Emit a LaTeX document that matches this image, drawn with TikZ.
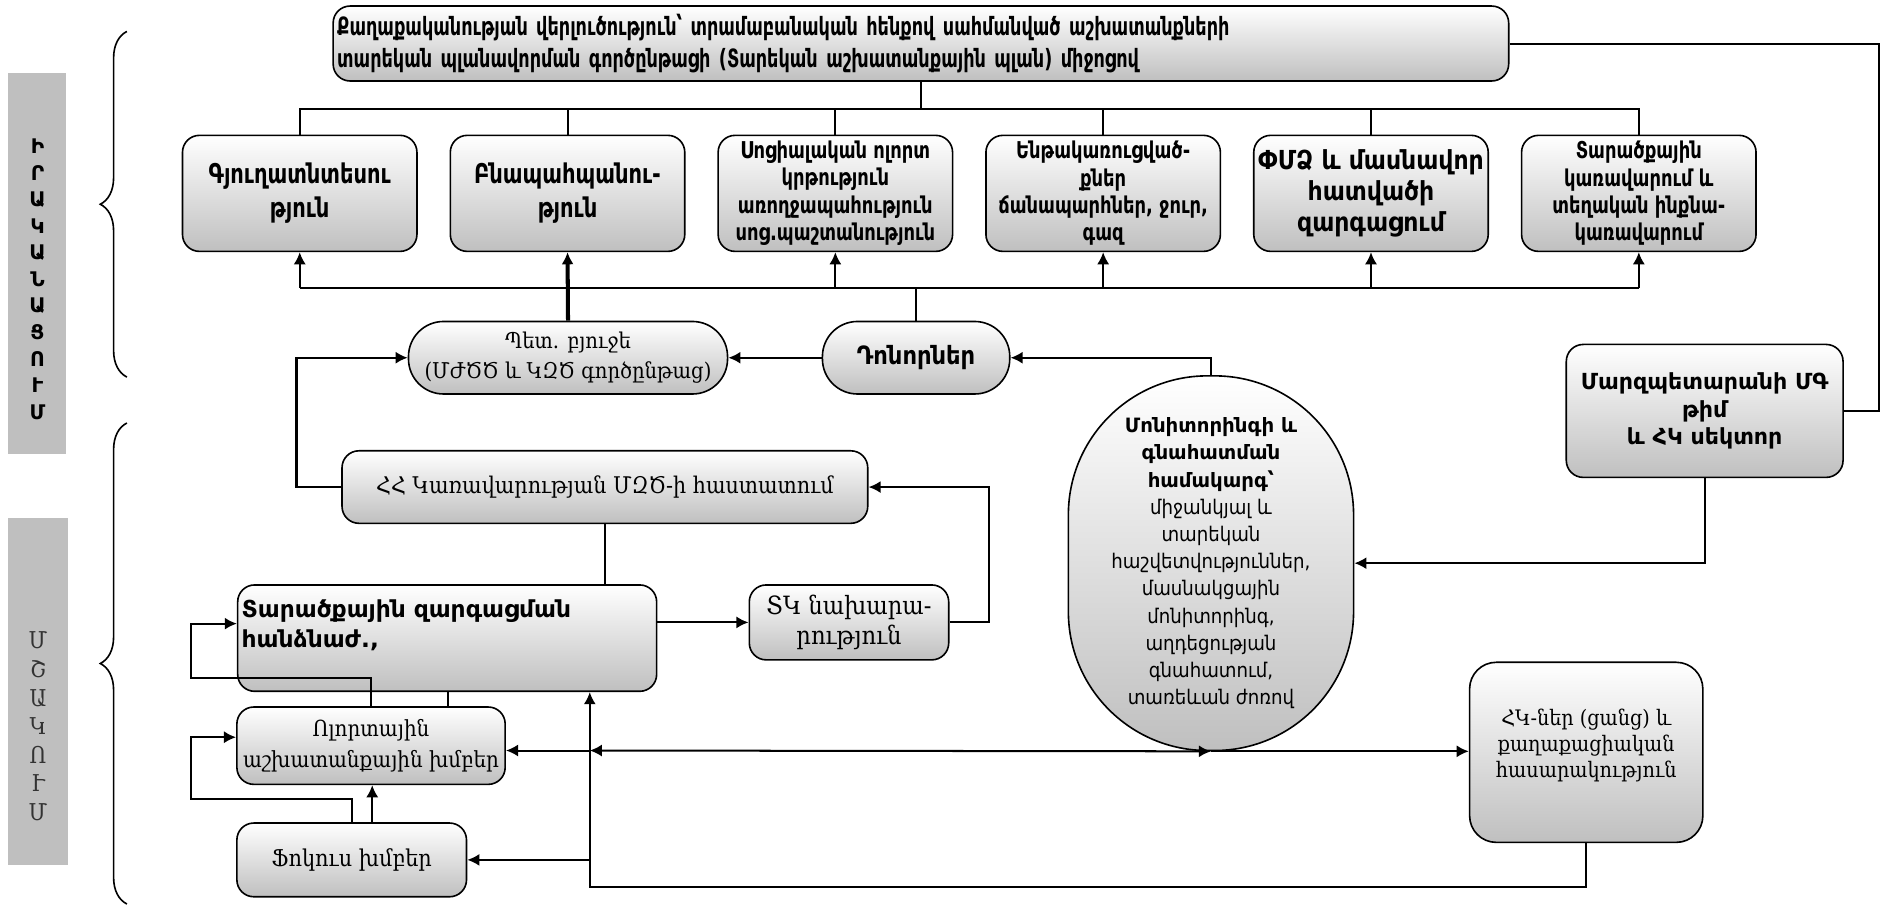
\documentclass[tikz,border=0pt]{standalone}
\usepackage{fontspec}
\newfontfamily\armcb{DejaVu Sans Condensed}
\newfontfamily\armnb{DejaVu Sans Condensed}[FakeStretch=0.78]
\newfontfamily\armmb{DejaVu Sans Condensed}[FakeStretch=0.86]
\newfontfamily\armsans{DejaVu Sans}
\newfontfamily\armserif{DejaVu Serif Condensed}
\usetikzlibrary{arrows.meta,decorations.pathreplacing}
\newlength\unitpx
\setlength\unitpx{0.6pt}

\begin{document}
\begin{tikzpicture}[x=\unitpx, y=-\unitpx, line width=1pt,
    box/.style = {draw, line width=0.8pt, rounded corners=14\unitpx, top color=white, bottom color=gray!50, align=center, inner sep=2pt},
    pill/.style = {box, rounded corners=29\unitpx},
    row/.style = {box, minimum width=194\unitpx, minimum height=96\unitpx},
    bigtxt/.style = {font=\armmb\bfseries\fontsize{13.5}{17}\selectfont},
    smalltxt/.style = {font=\armmb\bfseries\fontsize{11.5}{13.6}\selectfont},
    serif/.style = {font=\armserif\fontsize{#1}{15}\selectfont},
    arr/.style = {-{Latex[length=6pt, width=6pt]}},
    brace/.style = {decorate, decoration={brace, amplitude=22\unitpx}, line width=0.8pt},
    node distance = 221.6\unitpx]
    \useasboundingbox (0,0) rectangle (1568,752);

    % side labels
    \node[fill=gray!50, minimum width=48\unitpx, minimum height=316\unitpx] (irakbar) at (31,218) {};
    \node[font=\armsans\bfseries\fontsize{10}{13.2}\selectfont, align=center] (irak) at (31,231) {Ի\\Ր\\Ա\\Կ\\Ա\\Ն\\Ա\\Ց\\Ո\\Ւ\\Մ};
    \node[fill=gray!50, minimum width=49\unitpx, minimum height=287\unitpx] (mshbar) at (31.5,572.5) {};
    \node[font=\armserif\fontsize{11.5}{14.2}\selectfont, text=black!80, align=center] (mshak) at (31.5,601) {Մ\\Շ\\Ա\\Կ\\Ո\\Ւ\\Մ};
    \draw[brace] (105,312) -- (105,26);
    \draw[brace] (105,748) -- (105,350);

    % plan and sectors
    \node[box, align=left, text width=966\unitpx, minimum height=62\unitpx, font=\armnb\bfseries\fontsize{12.5}{16}\selectfont] (plan) at (762,36) {Քաղաքականության վերլուծություն՝ տրամաբանական հենքով սահմանված աշխատանքների\\տարեկան պլանավորման գործընթացի (Տարեկան աշխատանքային պլան) միջոցով};
    \node[row, bigtxt] (b1) at (248,160) {Գյուղատնտեսու\\թյուն};
    \node[row, bigtxt] (b2) [right of=b1] {Բնապահպանու-\\թյուն};
    \node[row, smalltxt] (b3) [right of=b2] {Սոցիալական ոլորտ\\կրթություն\\առողջապահություն\\սոց.պաշտանություն};
    \node[row, smalltxt] (b4) [right of=b3] {Ենթակառուցված-\\քներ\\ճանապարհներ, ջուր,\\գազ};
    \node[row, font=\armcb\bfseries\fontsize{13}{15.5}\selectfont] (b5) [right of=b4] {ՓՄՁ և մասնավոր\\հատվածի\\զարգացում};
    \node[row, smalltxt] (b6) [right of=b5] {Տարածքային\\կառավարում և\\տեղական ինքնա-\\կառավարում};

    % funding
    \node[pill, serif=10.8, minimum width=264\unitpx, minimum height=60\unitpx] (budget) at (470,296) {Պետ. բյուջե\\(ՄԺԾԾ և ԿԶԾ գործընթաց)};
    \node[pill, font=\armcb\bfseries\fontsize{12.5}{15}\selectfont, minimum width=155\unitpx, minimum height=60\unitpx] (donor) at (758,296) {Դոնորներ};

    % monitoring
    \node[box, rounded corners=115\unitpx, minimum width=236\unitpx, minimum height=310\unitpx, font=\armcb\fontsize{10}{13.5}\selectfont] (mon) at (1002,466) {\mbox{}\\[-6pt]{\armsans\bfseries\fontsize{9.8}{13.5}\selectfont Մոնիտորինգի և}\\{\armsans\bfseries\fontsize{9.8}{13.5}\selectfont գնահատման}\\{\armsans\bfseries\fontsize{9.8}{13.5}\selectfont համակարգ՝}\\միջանկյալ և\\տարեկան\\հաշվետվություններ,\\մասնակցային\\մոնիտորինգ,\\աղդեցության\\գնահատում,\\տառեևան ժոռով};
    \node[box, font=\armsans\bfseries\fontsize{11}{13.5}\selectfont, minimum width=229\unitpx, minimum height=110\unitpx] (mg) at (1410.5,340) {Մարզպետարանի ՄԳ\\թիմ\\և ՀԿ սեկտոր};
    \node[box, rounded corners=22\unitpx, font=\armserif\fontsize{10.6}{12.8}\selectfont, minimum width=193\unitpx, minimum height=149\unitpx] (hk) at (1312.5,622.5) {ՀԿ-ներ (ցանց) և\\քաղաքացիական\\հասարակություն\\[-4pt]\mbox{}};

    % development
    \node[box, serif=11.4, minimum width=435\unitpx, minimum height=60\unitpx] (hh) at (500.5,403) {ՀՀ Կառավարության ՄԶԾ-ի հաստատում};
    \node[box, align=left, text width=340\unitpx, minimum height=88\unitpx, font=\armsans\bfseries\fontsize{11.6}{14.4}\selectfont] (tzh) at (370,528) {Տարածքային զարգացման\\հանձնաժ.,\\\mbox{}};
    \node[box, serif=12.5, minimum width=165\unitpx, minimum height=62\unitpx] (tk) at (702.5,515) {ՏԿ նախարա-\\րություն};
    \node[box, serif=11, minimum width=222\unitpx, minimum height=64\unitpx] (olort) at (307,617) {Ոլորտային\\աշխատանքային խմբեր};
    \node[box, serif=11.5, minimum width=190\unitpx, minimum height=61\unitpx] (focus) at (291,711.5) {Ֆոկուս խմբեր};

    % upper connectors
    \draw (plan.east) -- ++(306,0) |- (mg.east);
    \coordinate (tb) at (762,90);
    \draw (plan.south) -- (tb);
    \draw (b1.north) |- (tb) -| (b6.north);
    \foreach \n in {b2,b3,b4,b5} \draw (\n.north) -- (\n.north |- tb);
    \coordinate (bb) at (470,238);
    \draw (bb -| b1.south) -- (bb -| b6.south);
    \foreach \n in {b1,b3,b4,b5,b6} \draw[arr] (\n.south |- bb) -- (\n.south);
    \draw[arr, line width=2pt] (budget.north) -- (b2.south);
    \draw (donor.north) -- (donor.north |- bb);
    \draw[arr] (donor.west) -- (budget.east);
    \draw[arr] (mon.north) |- (donor.east);
    \draw[arr] (hh.west) -- ++(-37,0) |- (budget.west);
    \draw[arr] (tk.east) -- ++(33,0) |- (hh.east);
    \draw (hh.south) -- (hh.south |- tzh.north);
    \draw[arr] (tzh.east |- tk.west) -- (tk.west);
    \draw[arr] (mg.south) |- (mon.east);

    % lower connectors
    \coordinate (j) at (488,621);
    \coordinate (bl) at (488,734);
    \draw[arr] (mon.south) -- (mon.south -| hk.west);
    \draw[{Latex[length=6pt, width=6pt]}-{Latex[length=6pt, width=6pt]}] (j) -- (mon.south);
    \draw[arr] (j) -- (j -| olort.east);
    \draw[arr] (hk.south) |- (bl) -- (bl |- tzh.south);
    \draw[arr] (bl |- focus.east) -- (focus.east);
    \draw[arr] (olort.north) -- ++(0,-23) -- ++(-149,0) |- ([yshift=12\unitpx]tzh.west);
    \draw (tzh.south -| 371,0) -- (olort.north -| 371,0);
    \draw[arr] (focus.north) -- ++(0,-19) -- ++(-133,0) |- ([yshift=7\unitpx]olort.west);
    \draw[arr] ([xshift=17\unitpx]focus.north) -- ([xshift=17\unitpx]focus.north |- olort.south);
\end{tikzpicture}
\end{document}
